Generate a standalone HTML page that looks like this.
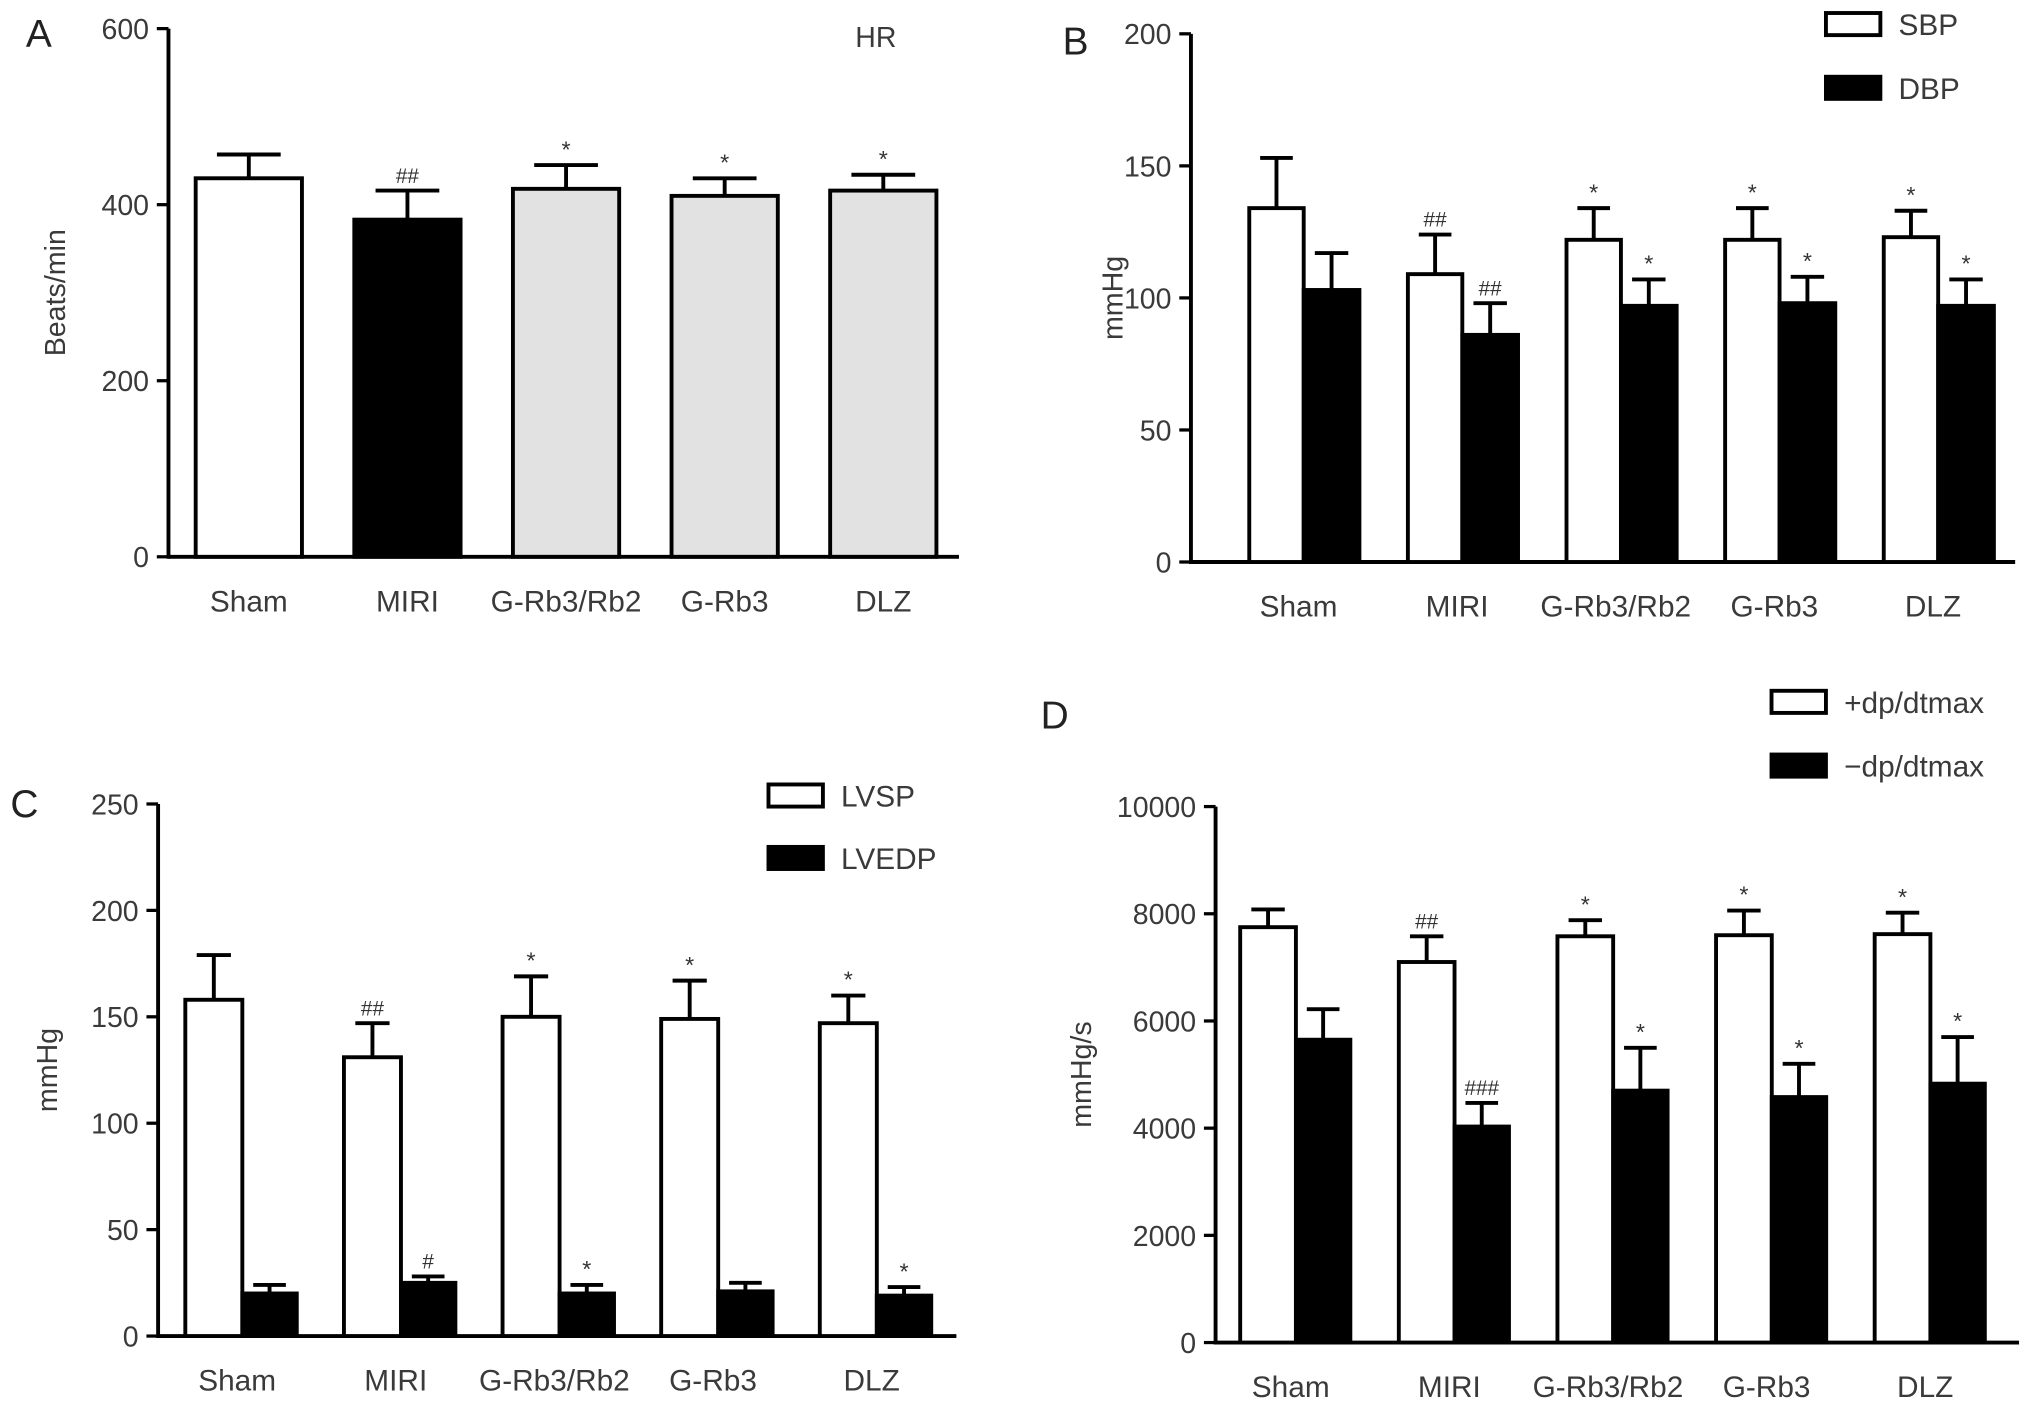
<!DOCTYPE html>
<html><head><meta charset="utf-8"><style>
html,body{margin:0;padding:0;background:#fff;}
svg{display:block;}
text{font-family:"Liberation Sans",sans-serif;fill:#3a3a3a;}
</style></head><body>
<svg id="fig" width="2032" height="1405" viewBox="0 0 1568 1080" preserveAspectRatio="none" xmlns="http://www.w3.org/2000/svg"></svg>
<script>
const categories = ["Sham","MIRI","G-Rb3/Rb2","G-Rb3","DLZ"];
// Panel A
const hrValues = [430,383,418,410,416];
const hrErr = [457,416,445,430,434];
const hrMarks = ["","##","*","*","*"];
const hrTicks = [0,200,400,600];
// Panel B
const sbpValues = [134,109,122,122,123];
const sbpErr = [153,124,134,134,133];
const sbpMarks = ["","##","*","*","*"];
const dbpValues = [103,86,97,98,97];
const dbpErr = [117,98,107,108,107];
const dbpMarks = ["","##","*","*","*"];
const bTicks = [0,50,100,150,200];
// Panel C
const lvspValues = [158,131,150,149,147];
const lvspErr = [179,147,169,167,160];
const lvspMarks = ["","##","*","*","*"];
const lvedpValues = [20,25,20,21,19];
const lvedpErr = [24,28,24,25,23];
const lvedpMarks = ["","#","*","","*"];
const cTicks = [0,50,100,150,200,250];
// Panel D
const dpPlusValues = [7750,7100,7580,7600,7620];
const dpPlusErr = [8080,7580,7880,8060,8020];
const dpPlusMarks = ["","##","*","*","*"];
const dpMinusValues = [5650,4030,4700,4580,4830];
const dpMinusErr = [6220,4470,5500,5200,5700];
const dpMinusMarks = ["","###","*","*","*"];
const dTicks = [0,2000,4000,6000,8000,10000];

const NS="http://www.w3.org/2000/svg";
const svg=document.getElementById('fig');
function el(tag,attrs,parent,txt){
  const e=document.createElementNS(NS,tag);
  for(const k in attrs) e.setAttribute(k,attrs[k]);
  if(txt!==undefined) e.textContent=txt;
  (parent||svg).appendChild(e); return e;
}
function panel(cfg){
  const g=el('g',{});
  
  
  const max=cfg.ticks[cfg.ticks.length-1];
  const y=v=>cfg.y0-(v/max)*(cfg.y0-cfg.y1);
  const cx=i=>cfg.x0+cfg.firstC+i*122.4;
  const ax=el('line',{x1:cfg.x0,y1:cfg.y0,x2:cfg.x1,y2:cfg.y0,stroke:'#000','stroke-width':3},g);
  
  const ay=el('line',{x1:cfg.x0,y1:cfg.y0+1.5,x2:cfg.x0,y2:cfg.y1,stroke:'#000','stroke-width':3},g);
  
  cfg.ticks.forEach(t=>{
    el('line',{x1:cfg.x0-9,y1:y(t),x2:cfg.x0,y2:y(t),stroke:'#000','stroke-width':2.5},g);
    const tl=el('text',{x:cfg.x0-15,y:y(t)+8,'text-anchor':'end','font-size':22},g,String(t));
    
  });
  categories.forEach((c,i)=>{
    const t=el('text',{x:cx(i)+(cfg.labelDx||0),y:cfg.y0+42,'text-anchor':'middle','font-size':23},g,c);
    
  });
  const yl=el('text',{x:0,y:0,'text-anchor':'middle','font-size':22,transform:`translate(${cfg.ylx},${(cfg.y0+cfg.y1)/2}) rotate(-90)`},g,cfg.ylabel);
  
  const pl=el('text',{x:cfg.letter[0],y:cfg.letter[1],'font-size':30,'style':'fill:#222'},g,cfg.letter[2]);
  
  cfg.series.forEach(s=>{
    s.values.forEach((v,i)=>{
      const left=cx(i)+s.off;
      const r=el('rect',{x:left,y:y(v),width:s.w,height:cfg.y0-y(v),fill:s.fill(i),stroke:'#000','stroke-width':3},g);
      
      
      const mid=left+s.w/2, ty=y(s.err[i]);
      el('line',{x1:mid,y1:y(v),x2:mid,y2:ty,stroke:'#000','stroke-width':3},g);
      el('line',{x1:mid-s.w*0.3,y1:ty,x2:mid+s.w*0.3,y2:ty,stroke:'#000','stroke-width':3},g);
      if(s.marks[i]){
        const m=el('text',{x:mid,y:ty-6,'text-anchor':'middle','font-size':s.marks[i]=='*'?18:16,style:'fill:#333'},g,s.marks[i]);
        
      }
    });
  });
  (cfg.legend||[]).forEach(L=>{
    const lg=el('g',{},g);
    
    el('rect',{x:L.x,y:L.y,width:42,height:17,fill:L.fill,stroke:'#000','stroke-width':3},lg);
    el('text',{x:L.x+56,y:L.y+17,'font-size':23},lg,L.t);
  });
}
panel({name:'panel-a-hr',x0:130,x1:740,y0:428,y1:22,firstC:62,ticks:hrTicks,ylabel:'Beats/min',ylx:50,letter:[20,36,'A'],
  series:[{key:'hr',values:hrValues,err:hrErr,marks:hrMarks,off:-41,w:82,fill:i=>i==0?'#fff':(i==1?'#000':'#e2e2e2')}]});
el('text',{x:660,y:36,'font-size':22},svg,'HR');
panel({name:'panel-b-bp',x0:919,x1:1555,y0:432,y1:26,firstC:87,ticks:bTicks,ylabel:'mmHg',ylx:866,letter:[820,42,'B'],labelDx:-4,
  series:[{key:'sbp',values:sbpValues,err:sbpErr,marks:sbpMarks,off:-42,w:42,fill:()=>'#fff'},
          {key:'dbp',values:dbpValues,err:dbpErr,marks:dbpMarks,off:0,w:43,fill:()=>'#000'}],
  legend:[{x:1409,y:10,fill:'#fff',t:'SBP'},{x:1409,y:59,fill:'#000',t:'DBP'}]});
panel({name:'panel-c-lv',x0:122,x1:738,y0:1027,y1:618,firstC:65,ticks:cTicks,ylabel:'mmHg',ylx:44,letter:[8,628,'C'],labelDx:-4,
  series:[{key:'lvsp',values:lvspValues,err:lvspErr,marks:lvspMarks,off:-44,w:44,fill:()=>'#fff'},
          {key:'lvedp',values:lvedpValues,err:lvedpErr,marks:lvedpMarks,off:0,w:42,fill:()=>'#000'}],
  legend:[{x:593,y:603,fill:'#fff',t:'LVSP'},{x:593,y:651,fill:'#000',t:'LVEDP'}]});
panel({name:'panel-d-dpdt',x0:938,x1:1558,y0:1032,y1:620,firstC:62,ticks:dTicks,ylabel:'mmHg/s',ylx:842,letter:[803,560,'D'],labelDx:-4,
  series:[{key:'dp-plus',values:dpPlusValues,err:dpPlusErr,marks:dpPlusMarks,off:-43,w:43,fill:()=>'#fff'},
          {key:'dp-minus',values:dpMinusValues,err:dpMinusErr,marks:dpMinusMarks,off:0,w:42,fill:()=>'#000'}],
  legend:[{x:1367,y:531,fill:'#fff',t:'+dp/dtmax'},{x:1367,y:580,fill:'#000',t:'\u2212dp/dtmax'}]});
</script>
</body></html>
